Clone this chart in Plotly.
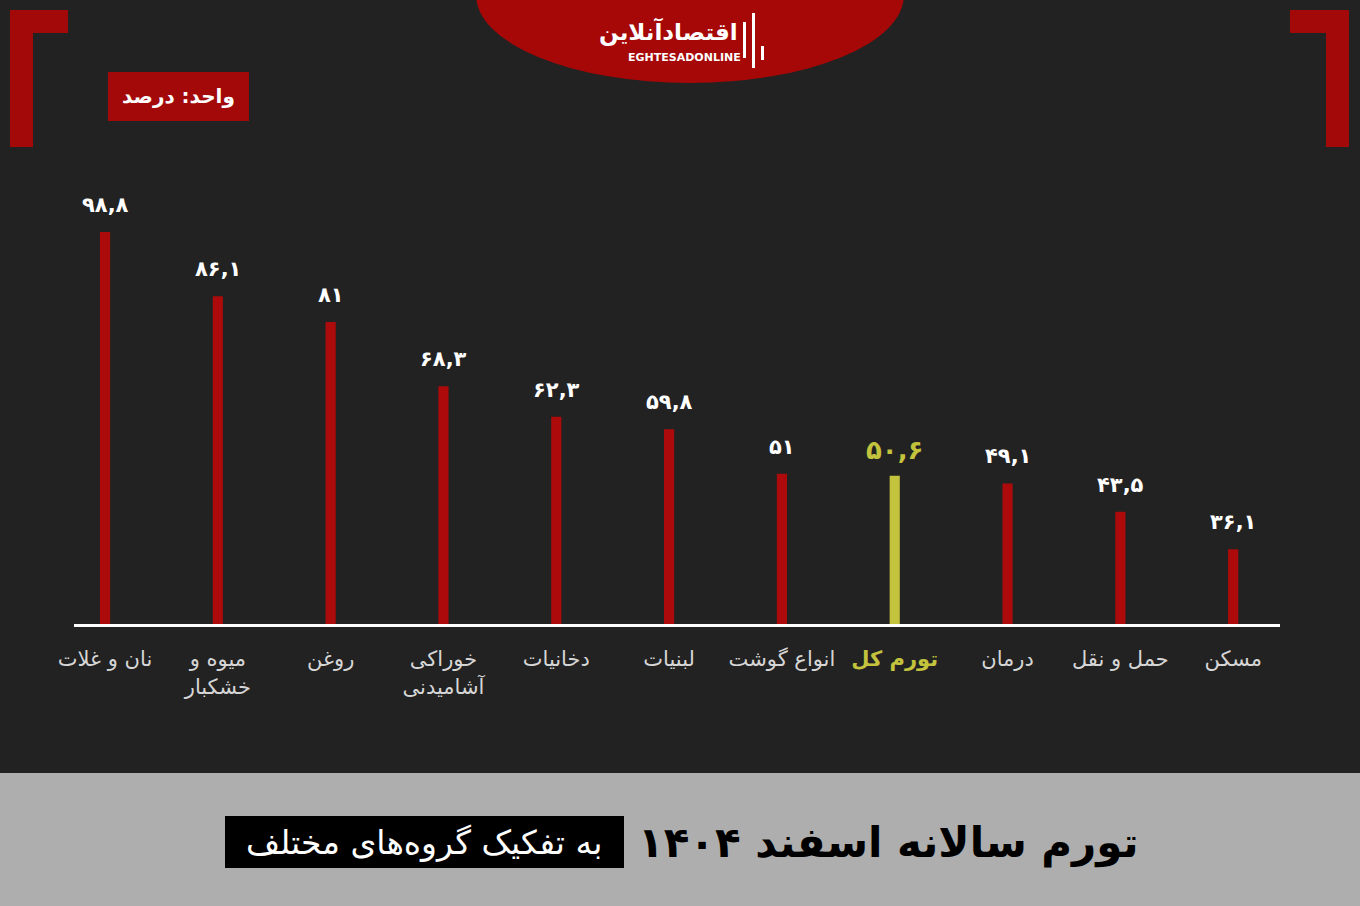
import plotly.graph_objects as go

# ---------------- data ----------------
categories = ["نان و غلات", "میوه و<br>خشکبار", "روغن", "خوراکی<br>آشامیدنی", "دخانیات",
              "لبنیات", "انواع گوشت", "تورم کل", "درمان", "حمل و نقل", "مسکن"]
values = [98.8, 86.1, 81, 68.3, 62.3, 59.8, 51, 50.6, 49.1, 43.5, 36.1]
highlight_index = 7
title_main = "تورم سالانه اسفند ۱۴۰۴"
title_sub = "به تفکیک گروه‌های مختلف"
unit_label = "واحد: درصد"

# ---------------- style ----------------
W, H = 1360, 906
ML, MR, MT, MB = 74, 80, 180, 282
PW, PH = W - ML - MR, H - MT - MB
RED = "#ad0b0b"
BRACKET = "#a30909"
YEL = "#c3c33d"
BG = "#222222"
FONT = "DejaVu Sans"


def px(x):
    return (x - ML) / PW


def py(y):
    return 1 - (y - MT) / PH


def fa_num(v):
    s = ("%g" % v).replace(".", ",")
    return s.translate(str.maketrans("0123456789", "۰۱۲۳۴۵۶۷۸۹"))


xs = list(range(len(categories)))
colors = [YEL if i == highlight_index else RED for i in xs]
ticktext = []
for i, c in enumerate(categories):
    if i == highlight_index:
        ticktext.append(f"<b><span style='color:{YEL}'>{c}</span></b>")
    else:
        ticktext.append(c)

fig = go.Figure()
fig.add_trace(go.Bar(x=xs, y=values, width=0.09, marker=dict(color=colors, line=dict(width=0)),
                     hoverinfo="skip"))

# value labels
for i, v in enumerate(values):
    hl = i == highlight_index
    fig.add_annotation(x=i, y=v, text=("<b>%s</b>" % fa_num(v)), showarrow=False,
                       yanchor="bottom", yshift=9 if hl else 13,
                       font=dict(family=FONT, size=26 if hl else 21, color=YEL if hl else "white"))

shapes = []
# bottom light band
shapes.append(dict(type="rect", xref="paper", yref="paper", x0=px(0), x1=px(W), y0=py(773), y1=py(H),
                   fillcolor="#aeaeae", line=dict(width=0), layer="below"))
# subtitle black box
shapes.append(dict(type="rect", xref="paper", yref="paper", x0=px(225), x1=px(624), y0=py(868), y1=py(816),
                   fillcolor="black", line=dict(width=0)))
# top red ellipse
shapes.append(dict(type="circle", xref="paper", yref="paper", x0=px(476), x1=px(904), y0=py(83), y1=py(-93),
                   fillcolor="#a60808", line=dict(width=0), layer="below"))
# corner brackets
for (x0, y0, x1, y1) in [(10, 10, 33, 147), (10, 10, 68, 33), (1326, 10, 1349, 147), (1290, 10, 1349, 33)]:
    shapes.append(dict(type="rect", xref="paper", yref="paper", x0=px(x0), x1=px(x1), y0=py(y1), y1=py(y0),
                       fillcolor=BRACKET, line=dict(width=0)))
# unit box
shapes.append(dict(type="rect", xref="paper", yref="paper", x0=px(108), x1=px(249), y0=py(121), y1=py(72),
                   fillcolor=BRACKET, line=dict(width=0)))
# logo mark bars
for (x0, y0, x1, y1) in [(743, 22, 746, 58), (752, 13, 755, 68), (761, 46, 764, 60)]:
    shapes.append(dict(type="rect", xref="paper", yref="paper", x0=px(x0), x1=px(x1), y0=py(y1), y1=py(y0),
                       fillcolor="white", line=dict(width=0)))

annos = [
    dict(x=px(178), y=py(96), text="<b>%s</b>" % unit_label, font=dict(family=FONT, size=20, color="white")),
    dict(x=px(668), y=py(31), text="<b>اقتصادآنلاین</b>", font=dict(family=FONT, size=23, color="white")),
    dict(x=px(684), y=py(57), text="<b>EGHTESADONLINE</b>", font=dict(family=FONT, size=11, color="white")),
    dict(x=px(424), y=py(842), text=title_sub, font=dict(family=FONT, size=33, color="white")),
    dict(x=px(888), y=py(843), text="<b>%s</b>" % title_main, font=dict(family=FONT, size=42, color="black")),
]
for a in annos:
    fig.add_annotation(xref="paper", yref="paper", showarrow=False, xanchor="center", yanchor="middle", **a)

fig.update_layout(
    width=W, height=H, autosize=False,
    margin=dict(l=ML, r=MR, t=MT, b=MB, pad=0),
    paper_bgcolor=BG, plot_bgcolor="rgba(0,0,0,0)",
    showlegend=False, shapes=shapes,
    font=dict(family=FONT),
    xaxis=dict(range=[-0.275, 10.415], tickvals=xs, ticktext=ticktext, showgrid=False, zeroline=False,
               showline=True, linecolor="white", linewidth=3, ticks="outside", ticklen=14,
               tickcolor="rgba(0,0,0,0)", tickfont=dict(family=FONT, size=21, color="#d6d6d6"),
               fixedrange=True),
    yaxis=dict(range=[21.3, 109.1], visible=False, showgrid=False, zeroline=False, fixedrange=True),
)

fig.write_html("out.html", config={"displayModeBar": False},
               post_script="document.body.style.margin='0';document.body.style.background='%s';" % BG)
